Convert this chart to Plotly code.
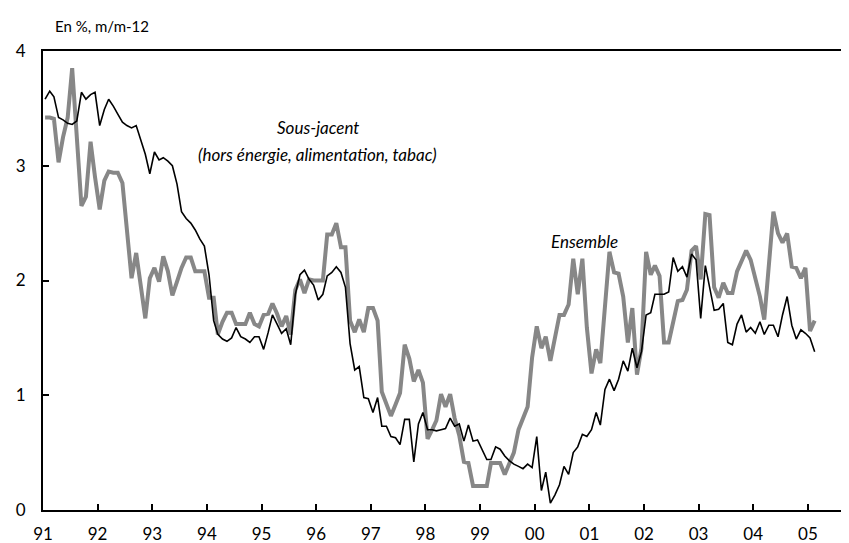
import pandas as pd
import plotly.graph_objects as go

# monthly data, Jan 1991 -> Feb 2005 (yoy %, m/m-12)
sous_jacent = [
    3.58, 3.65, 3.60, 3.42, 3.40, 3.37, 3.36, 3.39, 3.64, 3.58, 3.62, 3.64,
    3.35, 3.49, 3.58, 3.52, 3.45, 3.38, 3.35, 3.33, 3.35, 3.22, 3.10, 2.93,
    3.12, 3.05, 3.07, 3.04, 3.00, 2.84, 2.60, 2.54, 2.50, 2.44, 2.36, 2.30,
    2.05, 1.65, 1.53, 1.49, 1.47, 1.50, 1.59, 1.51, 1.49, 1.46, 1.51, 1.51,
    1.40, 1.55, 1.70, 1.62, 1.54, 1.58, 1.44, 1.88, 2.05, 2.09, 2.01, 1.96,
    1.83, 1.88, 2.04, 2.07, 2.12, 2.07, 1.94, 1.45, 1.22, 1.25, 0.98, 0.97,
    0.85, 0.98, 0.73, 0.73, 0.64, 0.63, 0.57, 0.79, 0.79, 0.42, 0.75, 0.85,
    0.70, 0.70, 0.69, 0.70, 0.71, 0.80, 0.73, 0.75, 0.60, 0.74, 0.60, 0.61,
    0.53, 0.44, 0.44, 0.55, 0.53, 0.47, 0.43, 0.40, 0.38, 0.36, 0.40, 0.37,
    0.64, 0.17, 0.33, 0.06, 0.13, 0.22, 0.38, 0.31, 0.50, 0.55, 0.66, 0.64,
    0.70, 0.85, 0.74, 1.05, 1.14, 1.04, 1.14, 1.30, 1.21, 1.41, 1.24, 1.38,
    1.70, 1.72, 1.88, 1.88, 1.88, 1.90, 2.20, 2.08, 2.12, 2.03, 2.23, 2.18,
    1.67, 2.13, 1.94, 1.74, 1.75, 1.80, 1.46, 1.44, 1.62, 1.70, 1.55, 1.59,
    1.54, 1.64, 1.53, 1.61, 1.61, 1.51, 1.70, 1.86, 1.61, 1.49, 1.57, 1.54,
    1.50, 1.38,
]
ensemble = [
    3.42, 3.42, 3.41, 3.03, 3.25, 3.42, 3.85, 3.25, 2.65, 2.73, 3.21, 2.90,
    2.62, 2.87, 2.95, 2.94, 2.94, 2.85, 2.45, 2.02, 2.24, 1.96, 1.67, 2.02,
    2.11, 1.99, 2.21, 2.08, 1.87, 1.99, 2.11, 2.20, 2.20, 2.08, 2.08, 2.08,
    1.85, 1.85, 1.53, 1.64, 1.72, 1.72, 1.62, 1.62, 1.62, 1.72, 1.62, 1.60,
    1.70, 1.71, 1.80, 1.71, 1.60, 1.69, 1.53, 1.92, 2.01, 1.89, 2.01, 2.00,
    2.00, 2.00, 2.40, 2.40, 2.50, 2.29, 2.29, 1.65, 1.55, 1.66, 1.55, 1.76,
    1.76, 1.65, 1.03, 0.92, 0.82, 0.92, 1.02, 1.44, 1.32, 1.12, 1.22, 1.11,
    0.62, 0.70, 0.78, 1.01, 0.90, 1.01, 0.80, 0.65, 0.42, 0.41, 0.21, 0.21,
    0.21, 0.21, 0.41, 0.41, 0.41, 0.31, 0.41, 0.50, 0.70, 0.80, 0.90, 1.33,
    1.60, 1.41, 1.51, 1.30, 1.49, 1.70, 1.70, 1.79, 2.19, 1.88, 2.19, 1.59,
    1.19, 1.40, 1.28, 1.76, 2.25, 2.07, 2.06, 1.86, 1.46, 1.76, 1.18, 1.41,
    2.25, 2.05, 2.13, 2.04, 1.46, 1.46, 1.65, 1.82, 1.83, 1.92, 2.26, 2.30,
    2.01, 2.58, 2.57, 1.94, 1.85, 1.98, 1.89, 1.89, 2.08, 2.17, 2.26, 2.18,
    2.03, 1.86, 1.66, 2.12, 2.60, 2.41, 2.33, 2.41, 2.12, 2.11, 2.02, 2.11,
    1.56, 1.65,
]
years = list(range(1991, 2006))
year_labels = ["%02d" % (y % 100) for y in years]

dates = pd.date_range("1991-01-01", periods=len(ensemble), freq="MS") + pd.Timedelta(days=14)
FONT = "Lato"

fig = go.Figure()
fig.add_trace(go.Scatter(x=dates, y=ensemble, mode="lines",
                         line=dict(color="#878787", width=4)))
fig.add_trace(go.Scatter(x=dates, y=sous_jacent, mode="lines",
                         line=dict(color="black", width=1.6)))

fig.update_layout(
    width=849, height=543,
    margin=dict(l=35, r=0, t=43, b=41, pad=0),
    plot_bgcolor="white", paper_bgcolor="white",
    showlegend=False,
    font=dict(family=FONT, size=17, color="black"),
    xaxis=dict(type="date", range=["1991-01-01", "2005-11-25"],
               tickvals=[pd.Timestamp(y, 1, 1) for y in years], ticktext=year_labels,
               ticks="inside", ticklen=6, tickwidth=1.5, tickcolor="black",
               showline=True, linewidth=2, linecolor="black", mirror=True,
               showgrid=False, zeroline=False, ticklabelstandoff=8),
    yaxis=dict(range=[0, 4], tickvals=[0, 1, 2, 3, 4],
               ticks="inside", ticklen=6, tickwidth=1.5, tickcolor="black",
               showline=True, linewidth=2, linecolor="black",
               showgrid=False, zeroline=False, ticklabelstandoff=12),
)

fig.add_annotation(text="En %, m/m-12", xref="paper", yref="paper",
                   x=0.0123, y=1.0545, xanchor="left", yanchor="middle",
                   showarrow=False, font=dict(size=15))
fig.add_annotation(text="<i>Sous-jacent</i>", x="1996-01-13", y=3.33,
                   showarrow=False, font=dict(size=17))
fig.add_annotation(text="<i>(hors énergie, alimentation, tabac)</i>", x="1996-01-13", y=3.10,
                   showarrow=False, font=dict(size=17))
fig.add_annotation(text="<i>Ensemble</i>", x="2000-11-26", y=2.34,
                   showarrow=False, font=dict(size=17))

fig.write_html("out.html")
